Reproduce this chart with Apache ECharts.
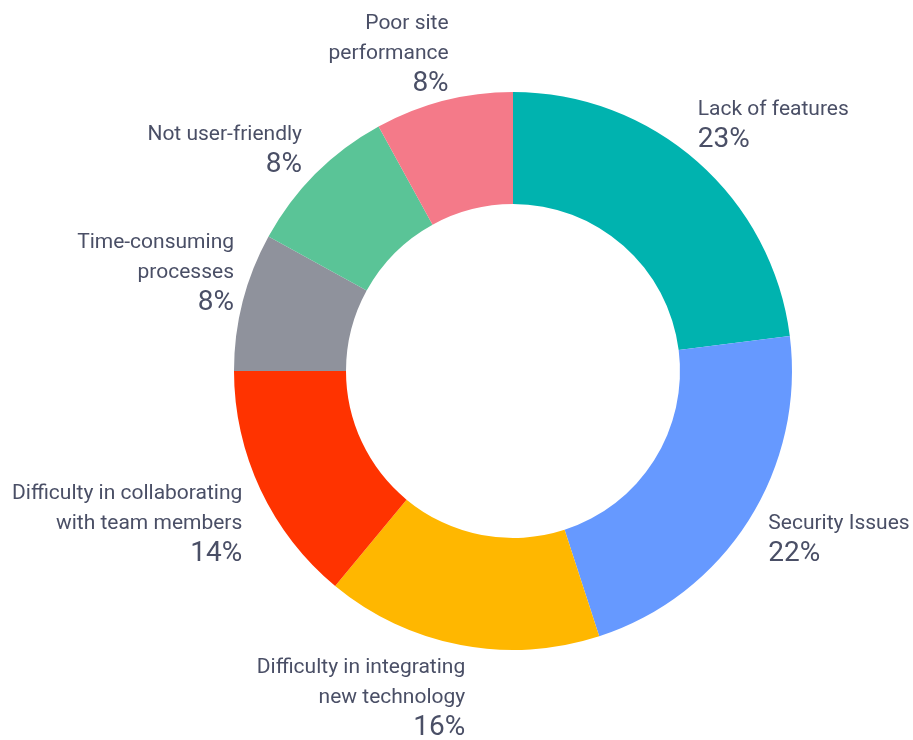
<!DOCTYPE html>
<html>
<head>
<meta charset="utf-8">
<script src="https://cdn.jsdelivr.net/npm/echarts@6/dist/echarts.min.js"></script>
<style>
  html, body { margin: 0; padding: 0; background: #ffffff; }
  #chart { width: 913px; height: 740px; }
</style>
</head>
<body>
<div id="chart"></div>
<script>
const categories = [
  'Lack of features',
  'Security Issues',
  'Difficulty in integrating\nnew technology',
  'Difficulty in collaborating\nwith team members',
  'Time-consuming\nprocesses',
  'Not user-friendly',
  'Poor site\nperformance'
];
const values = [23, 22, 16, 14, 8, 9, 8];
const percentLabels = ['23%', '22%', '16%', '14%', '8%', '8%', '8%'];
const colors = ['#00B3AF', '#6699FF', '#FFB700', '#FF3300', '#8F929C', '#5AC497', '#F47A89'];
// small style nudges (px) applied to each label after the geometric placement
const labelNudge = [[-5, -1], [13, -16], [6, 0], [-11, -14], [-1, 18], [-8, 12], [7, 6]];

const chart = echarts.init(document.getElementById('chart'), null, { renderer: 'canvas' });

const data = categories.map((name, i) => ({
  name: name,
  value: values[i],
  itemStyle: { color: colors[i] }
}));

chart.setOption({
  animation: false,
  backgroundColor: '#ffffff',
  series: [{
    type: 'pie',
    center: [513, 371],
    radius: [167, 279],
    startAngle: 90,
    clockwise: true,
    avoidLabelOverlap: false,
    silent: true,
    itemStyle: { borderWidth: 0 },
    data: data,
    label: {
      show: true,
      position: 'outside',
      color: '#4A4F66',
      fontFamily: 'Roboto',
      formatter: function (p) {
        return '{n|' + p.name + '}\n{p|' + percentLabels[p.dataIndex] + '}';
      },
      rich: {
        n: { fontFamily: 'Roboto', fontSize: 21, lineHeight: 30, color: '#4A4F66' },
        p: { fontFamily: 'Roboto', fontSize: 28, lineHeight: 30, color: '#4A4F66' }
      }
    },
    labelLine: { show: true, length: 8, length2: 0, lineStyle: { opacity: 0 } },
    labelLayout: function (params) {
      const pts = params.labelLinePoints;
      if (!pts) return {};
      const dx = pts[1][0] - pts[0][0];
      const dy = pts[1][1] - pts[0][1];
      const nudge = labelNudge[params.dataIndex] || [0, 0];
      return {
        x: pts[1][0] + nudge[0],
        y: pts[1][1] + nudge[1],
        align: dx < 0 ? 'right' : 'left',
        verticalAlign: dy < 0 ? 'bottom' : 'top'
      };
    }
  }]
});
</script>
</body>
</html>
